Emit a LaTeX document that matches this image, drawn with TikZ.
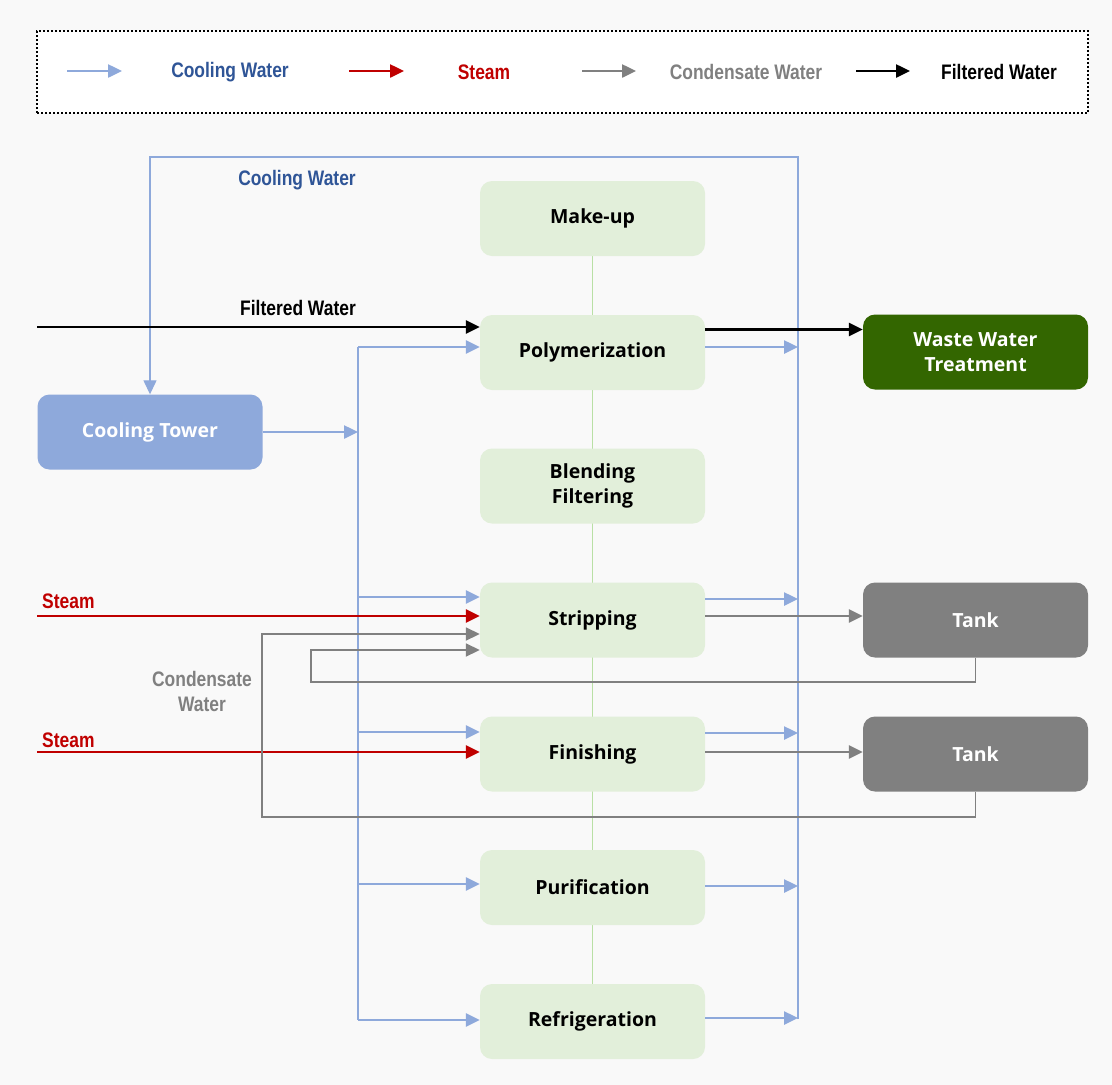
\documentclass[tikz,border=0pt]{standalone}
\usepackage{fontspec}
\setmainfont{Open Sans}
\newfontfamily\narrowfont{Liberation Sans}
\usetikzlibrary{arrows.meta,calc}
\pgfdeclarelayer{background}
\pgfsetlayers{background,main}

\definecolor{cwline}{HTML}{8EA9DB}
\definecolor{cwtext}{HTML}{2F5597}
\definecolor{steamred}{HTML}{C00000}
\definecolor{condgray}{HTML}{808080}
\definecolor{procfill}{HTML}{E2EFDA}
\definecolor{spinegreen}{HTML}{B9E0A5}
\definecolor{wwtfill}{HTML}{336600}
\definecolor{tankfill}{HTML}{808080}
\definecolor{towerfill}{HTML}{8EA9DB}
\definecolor{pagebg}{HTML}{F9F9F9}

% condensed bold label text
\newcommand\flowlbl[1]{\scalebox{0.83}[1]{\narrowfont\bfseries #1}}

\tikzset{
  tip/.style={-{Triangle[length=14pt,width=13pt]}},
  proc/.style={rounded corners=12pt, fill=procfill, minimum width=225pt,
    minimum height=75pt, align=center, text=black,
    font=\fontsize{19.5}{25}\selectfont\bfseries},
  unitbox/.style={rounded corners=12pt, minimum width=225pt,
    minimum height=75pt, align=center, text=white,
    font=\fontsize{19.5}{25}\selectfont\bfseries},
  cw/.style={draw=cwline, line width=2.5pt, tip},
  cwthin/.style={draw=cwline, line width=1.3pt},
  steam/.style={draw=steamred, line width=2.5pt, tip},
  cond/.style={draw=condgray, line width=2.5pt, tip},
  condline/.style={draw=condgray, line width=1.8pt},
  fw/.style={draw=black, line width=2.5pt, tip},
  flowtext/.style={font=\fontsize{21}{25}\selectfont},
}

\begin{document}
\begin{tikzpicture}[x=1pt,y=-1pt]
\useasboundingbox (0,0) rectangle (1112,1085);
\begin{pgfonlayer}{background}
  \fill[pagebg] (0,0) rectangle (1112,1085);
\end{pgfonlayer}

% ---------- legend ----------
\node[draw=black, fill=white, line width=2pt, dash pattern=on 2pt off 2pt,
      minimum width=1051pt, minimum height=82pt, inner sep=0pt]
      (legend) at (562.5,72) {};
\coordinate (lg1a) at (67,71);  \coordinate (lg1b) at (122,71);
\coordinate (lg2a) at (349,71); \coordinate (lg2b) at (404,71);
\coordinate (lg3a) at (582,71); \coordinate (lg3b) at (636,71);
\coordinate (lg4a) at (856,71); \coordinate (lg4b) at (910,71);
\draw[cw] (lg1a) -- (lg1b);
\draw[steam] (lg2a) -- (lg2b);
\draw[cond] (lg3a) -- (lg3b);
\draw[fw] (lg4a) -- (lg4b);
\node[flowtext, text=cwtext] (lgt1) at (230,72) {\flowlbl{Cooling Water}};
\node[flowtext, text=steamred] (lgt2) at (484,72) {\flowlbl{Steam}};
\node[flowtext, text=condgray] (lgt3) at (746,72) {\flowlbl{Condensate Water}};
\node[flowtext, text=black] (lgt4) at (999,72) {\flowlbl{Filtered Water}};

% ---------- process column ----------
\node[proc] (makeup) at (592.5,218.5) {Make-up};
\node[proc] (poly)   at (592.5,352.5) {Polymerization};
\node[proc] (blend)  at (592.5,486)   {Blending\\Filtering};
\node[proc] (strip)  at (592.5,620)   {Stripping};
\node[proc] (finish) at (592.5,754)   {Finishing};
\node[proc] (purif)  at (592.5,887.5) {Purification};
\node[proc] (refrig) at (592.5,1021.5){Refrigeration};

\begin{pgfonlayer}{background}
  \draw[spinegreen, line width=1pt] (makeup.center) -- (refrig.center);
\end{pgfonlayer}

% ---------- units ----------
\node[unitbox, fill=towerfill] (tower) at (150,432)   {Cooling Tower};
\node[unitbox, fill=wwtfill]   (wwt)   at (975.5,352) {Waste Water\\Treatment};
\node[unitbox, fill=tankfill]  (tank1) at (975.5,620) {Tank};
\node[unitbox, fill=tankfill]  (tank2) at (975.5,754) {Tank};

% ---------- cooling water ----------
\coordinate (supTop) at (358,347);
\coordinate (supBot) at (358,1020);
\coordinate (retTop) at (798,157);
\coordinate (retBot) at (798,1019);
\draw[cwthin] (supTop) -- (supBot);
\draw[cwthin, tip] (retBot) -- (retTop) -| (tower.north);
\draw[cw] (tower.east) -- (tower.east -| supTop);

\coordinate (s1) at (358,347);
\coordinate (s2) at (358,597);
\coordinate (s3) at (358,732);
\coordinate (s4) at (358,884);
\coordinate (s5) at (358,1020);
\draw[cw] (s1) -- (s1 -| poly.west);
\draw[cw] (s2) -- (s2 -| strip.west);
\draw[cw] (s3) -- (s3 -| finish.west);
\draw[cw] (s4) -- (s4 -| purif.west);
\draw[cw] (s5) -- (s5 -| refrig.west);

\coordinate (r1) at (798,347);
\coordinate (r2) at (798,599);
\coordinate (r3) at (798,733);
\coordinate (r4) at (798,886);
\coordinate (r5) at (798,1018);
\draw[cw] (r1 -| poly.east) -- (r1);
\draw[cw] (r2 -| strip.east) -- (r2);
\draw[cw] (r3 -| finish.east) -- (r3);
\draw[cw] (r4 -| purif.east) -- (r4);
\draw[cw] (r5 -| refrig.east) -- (r5);

\node[flowtext, text=cwtext] (cwlabel) at (297,180) {\flowlbl{Cooling Water}};

% ---------- filtered water ----------
\coordinate (fwin) at (37,327);
\draw[fw] (fwin) -- (fwin -| poly.west);
\draw[fw] ([yshift=23pt]poly.east) -- ([yshift=23pt]poly.east -| wwt.west);
\node[flowtext] (fwlabel) at (298,308) {\flowlbl{Filtered Water}};

% ---------- steam ----------
\coordinate (st1) at (37,616);
\coordinate (st2) at (37,752);
\draw[steam] (st1) -- (st1 -| strip.west);
\draw[steam] (st2) -- (st2 -| finish.west);
\node[flowtext, text=steamred, anchor=west, inner sep=0pt] (stl1) at (42,601) {\flowlbl{Steam}};
\node[flowtext, text=steamred, anchor=west, inner sep=0pt] (stl2) at (42,740) {\flowlbl{Steam}};

% ---------- condensate ----------
\draw[cond] ([yshift=4pt]strip.east) -- ([yshift=4pt]strip.east -| tank1.west);
\draw[cond] ([yshift=2pt]finish.east) -- ([yshift=2pt]finish.east -| tank2.west);
\coordinate (c1) at (311,682);
\coordinate (c2) at (262,817);
\draw[condline, tip] (tank1.south) |- (c1) |- ([yshift=-30pt]strip.west);
\draw[condline, tip] (tank2.south) |- (c2) |- ([yshift=-14pt]strip.west);
\node[flowtext, text=condgray, align=center] (cdlabel) at (202,691)
  {\flowlbl{Condensate}\\\flowlbl{Water}};
\end{tikzpicture}
\end{document}
